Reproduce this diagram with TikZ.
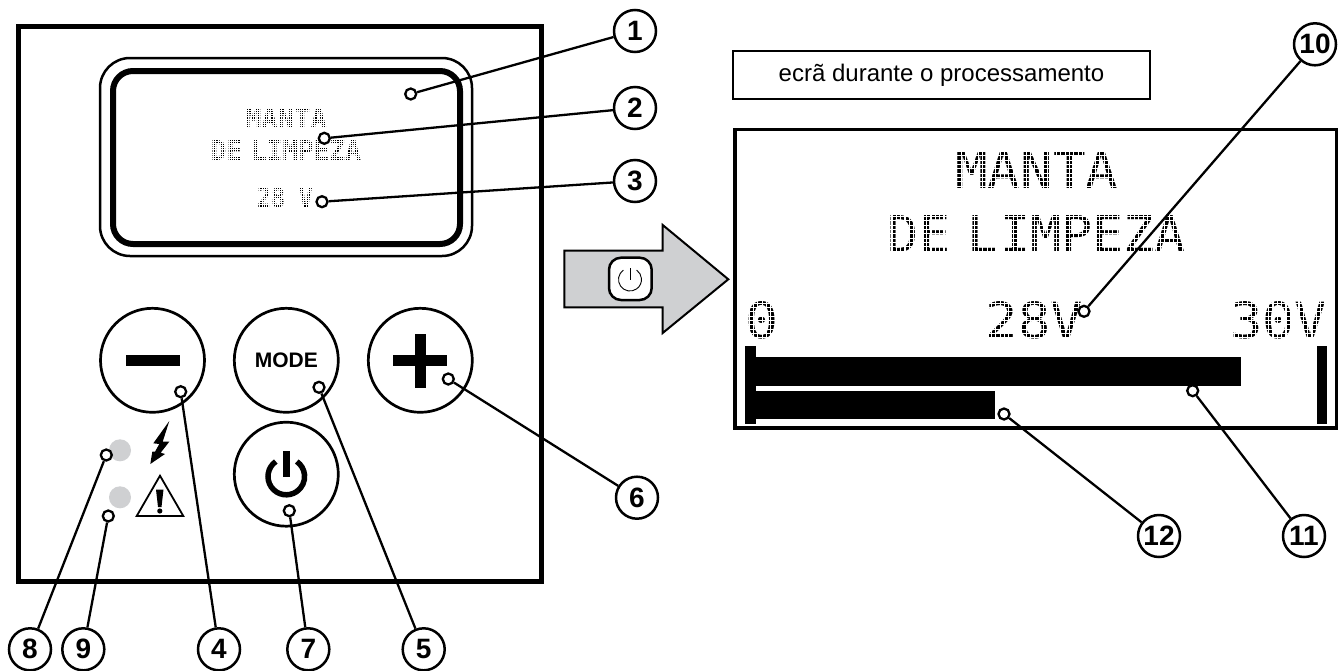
\documentclass[tikz,border=0pt]{standalone}
\usepackage{fontspec}
\usepackage{graphicx}
\setmainfont{Liberation Sans}
\newfontfamily\lcdfont{DejaVu Sans Mono}
\definecolor{ledgray}{HTML}{CFD0D2}
\tikzset{
  frameline/.style={draw=black,line width=5},
  marker/.style={circle,draw=black,fill=white,line width=2.3,inner sep=0pt,minimum size=11pt},
  callout/.style={circle,draw=black,fill=white,line width=2.5,inner sep=0pt,minimum size=42pt,font=\fontsize{28}{30}\selectfont\bfseries},
  leader/.style={draw=black,line width=2.3},
  keybtn/.style={circle,draw=black,fill=white,line width=2.7,inner sep=0pt,minimum size=104pt},
  lcdtext/.style={inner sep=0pt,outer sep=0pt,text=black},
  led/.style={circle,fill=ledgray,inner sep=0pt,minimum size=22pt},
}
\newcommand{\lcdline}[6]{\node[lcdtext] (#1) at (#2,#3) {\resizebox{#4pt}{#5pt}{\lcdfont #6}};}
\newcommand{\dotgrid}[6]{\draw[white,line width=#6,step=#5pt] (#1,#2) grid (#3,#4);}
\begin{document}
\begin{tikzpicture}[x=1pt,y=-1pt]
\useasboundingbox (0,0) rectangle (1339,670);
\fill[white] (0,0) rectangle (1339,670);
% left panel
\draw[frameline] (18,26.5) rectangle (541,581);
\draw[line width=2.5,rounded corners=30] (100,58) rectangle (472,256);
\draw[line width=6,rounded corners=20] (113,71) rectangle (460,244);
\lcdline{smanta}{286}{118}{82}{20}{\bfseries MANTA}
\lcdline{sdelimpeza}{286}{150}{150}{20}{\bfseries DE\kern-.26em\ LIMPEZA}
\lcdline{svolt}{285}{198}{56}{20}{\bfseries 28 V}
\dotgrid{244}{105}{328}{131}{2.2}{0.55}
\dotgrid{208}{137}{364}{163}{2.2}{0.55}
\dotgrid{255}{185}{315}{211}{2.2}{0.55}
% keys
\node[keybtn] (kminus) at (152.5,360.3) {};
\node[keybtn,font=\fontsize{21}{23}\selectfont\bfseries] (kmode) at (286.3,360.3) {MODE};
\node[keybtn] (kplus) at (420.3,360.3) {};
\node[keybtn] (kpower) at (286.3,474.2) {};
\fill (126,355) rectangle (180,366);
\fill (393,355) rectangle (447,366);
\fill (415,334) rectangle (426,388);
\draw[line width=5.5] (286.3,476.5) ++(-125:18.3) arc[start angle=-125,end angle=-415,radius=18.3];
\fill (283,451) rectangle (289.6,476.7);
% leds and symbols
\node[led] (led1) at (120,450.3) {};
\node[led] (led2) at (120,497.3) {};
\fill (169.3,421) -- (153.3,443.3) -- (159.3,444) -- (155,451.7) -- (152.3,451.7) -- (150.3,464) -- (165,454) -- (160.7,452.7) -- (169.3,441.7) -- (162.7,441.7) -- cycle;
\draw[line width=1.8,line join=miter] (160,475.7) -- (136.7,516) -- (183.3,516) -- cycle;
\fill (156,489.5) -- (163.5,489.5) -- (161.5,507) -- (158,507) -- cycle;
\fill (159.8,511) circle[radius=2.6];
% arrow
\draw[fill=ledgray,line width=2,line join=miter] (564.3,250.7) -- (662.7,250.7) -- (662.7,225) -- (728.3,279.3) -- (662.7,333) -- (662.7,307.3) -- (564.3,307.3) -- cycle;
\draw[fill=white,line width=2.5,rounded corners=12] (609,257.7) rectangle (651.7,300);
\draw[line width=0.9] (630,279.5) ++(-125:11.5) arc[start angle=-125,end angle=-415,radius=11.5];
\draw[line width=0.9] (630,268.3) -- (630,280);
% right panel
\node[draw=black,line width=2,minimum width=417pt,minimum height=48pt,inner sep=0pt,font=\fontsize{24}{26}\selectfont] (caption) at (941.5,75) {ecrã durante o processamento};
\draw[line width=3.2] (735,129.5) rectangle (1336.7,428);
\lcdline{lmanta}{1036.7}{170}{163}{37}{MANTA}
\lcdline{ldelimpeza}{1037}{234.3}{298}{37}{DE\kern-.26em\ LIMPEZA}
\lcdline{lzero}{762}{320.3}{33}{37}{0}
\lcdline{lvolt}{1034.2}{320.3}{97}{37}{28V}
\lcdline{lmax}{1278.8}{320.3}{97}{37}{30V}
\dotgrid{952}{148}{1122}{192}{4.33}{1.1}
\dotgrid{884}{212}{1190}{257}{4.33}{1.1}
\dotgrid{743}{298}{781}{342}{4.33}{1.1}
\dotgrid{982}{298}{1086}{342}{4.33}{1.1}
\dotgrid{1227}{298}{1331}{342}{4.33}{1.1}
\fill (745,346) rectangle (755.7,424);
\fill (755.7,357) rectangle (1240.7,386);
\fill (755.7,390.7) rectangle (995,419.3);
\fill (1316.7,346) rectangle (1327.3,424);
% markers
\node[marker] (m1) at (410.7,94) {};
\node[marker] (m2) at (324.3,138.3) {};
\node[marker] (m3) at (322,201.7) {};
\node[marker] (m4) at (180.7,391.7) {};
\node[marker] (m5) at (319,387.3) {};
\node[marker] (m6) at (448.3,379) {};
\node[marker] (m7) at (289.3,510.7) {};
\node[marker] (m8) at (106.3,455) {};
\node[marker] (m9) at (108.3,516) {};
\node[marker] (m10) at (1084,311.3) {};
\node[marker] (m11) at (1192.7,390.7) {};
\node[marker] (m12) at (1004,414) {};
% callouts
\node[callout] (c1) at (635,31) {1};
\node[callout] (c2) at (635,108) {2};
\node[callout] (c3) at (635,181) {3};
\node[callout] (c4) at (219,649.3) {4};
\node[callout] (c5) at (423.7,649.3) {5};
\node[callout] (c6) at (637,497.7) {6};
\node[callout] (c7) at (308.3,649.3) {7};
\node[callout] (c8) at (30,649.3) {8};
\node[callout] (c9) at (83.3,649.3) {9};
\node[callout] (c10) at (1315,44.3) {10};
\node[callout] (c11) at (1304,536) {11};
\node[callout] (c12) at (1159,536) {12};
% leaders
\foreach \n in {1,...,12} {\draw[leader] (c\n) -- (m\n);}
\end{tikzpicture}
\end{document}
